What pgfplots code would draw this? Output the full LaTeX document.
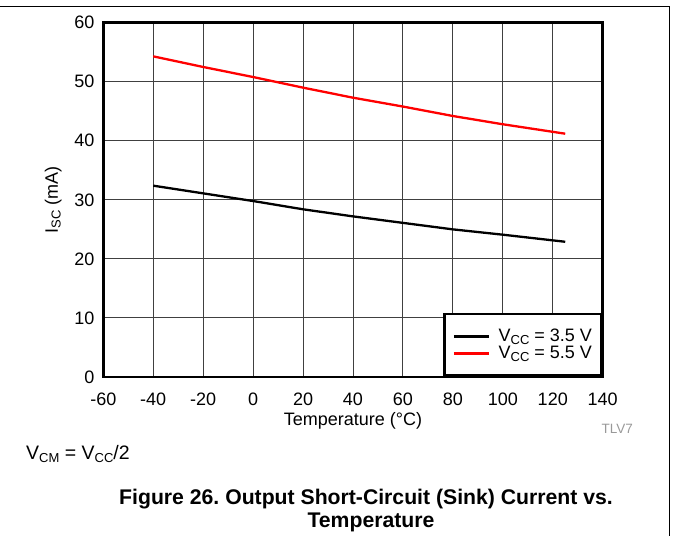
\documentclass[border=0pt]{standalone}
\usepackage{fontspec}
\setmainfont{Liberation Sans}
\usepackage{pgfplots}
\usepackage{pgfplotstable}
\pgfplotsset{compat=1.18}
\frenchspacing

\newcommand\lab{\fontsize{18}{20}\selectfont}
\newcommand\sub[1]{\raisebox{-0.15em}{\fontsize{13}{13}\selectfont #1}}

% Isc (mA) vs temperature (degC)
\pgfplotstableread{
T   I
-40 32.4
-20 31.1
0   29.8
20  28.4
40  27.2
60  26.1
80  25.0
100 24.1
125 22.9
}\lowvcc

\pgfplotstableread{
T   I
-40 54.3
-20 52.5
0   50.8
20  49.0
40  47.3
60  45.8
80  44.2
100 42.8
125 41.2
}\highvcc

\begin{document}
\begin{tikzpicture}[x=1pt,y=1pt]
\useasboundingbox (0,0) rectangle (673,536);
\draw[line width=1pt] (0,529) -- (669,529) -- (669,0);

\begin{axis}[
    at={(103.3pt,159pt)}, anchor=south west,
    scale only axis,
    width=499.4pt, height=354.3pt,
    xmin=-60, xmax=140,
    ymin=0, ymax=60,
    xtick={-60,-40,-20,0,20,40,60,80,100,120,140},
    xticklabels={-60,-40,-20,0,20,40,60,80,100,120,140},
    ytick={0,10,20,30,40,50,60},
    yticklabels={0,10,20,30,40,50,60},
    major tick length=0pt,
    grid=major,
    grid style={black!75, line width=0.9pt},
    axis line style={line width=2.5pt},
    xticklabel style={font=\lab, inner sep=0pt, anchor=north, yshift=-15.3pt},
    yticklabel style={font=\lab, inner sep=0pt, anchor=east, xshift=-8.6pt},
    xlabel={Temperature (°C)},
    xlabel style={font=\lab, at={(axis description cs:0.5,-0.1355)}, anchor=base},
    ylabel={I\sub{SC} (mA)},
    ylabel style={font=\lab, at={(axis description cs:-0.1001,0.5)}, anchor=center},
    legend style={at={(1,0)}, anchor=south east, draw=black, line width=2.5pt,
        fill=white, font=\lab, inner xsep=8pt, inner ysep=14pt, row sep=0pt,
        column sep=7pt, nodes={inner sep=1.5pt}},
    legend cell align=left,
    legend image code/.code={\draw[#1, line width=2.5pt] (0pt,0pt) -- (35pt,0pt);},
]
\addplot[black, line width=2.3pt] table[x=T, y=I] {\lowvcc};
\addlegendentry{V\sub{CC} = 3.5 V}
\addplot[red, line width=2.3pt] table[x=T, y=I] {\highvcc};
\addlegendentry{V\sub{CC} = 5.5 V}
\end{axis}

\node[anchor=base west, text=black!40, font=\fontsize{13.5}{14}\selectfont] at (598,102.7) {TLV7};
\node[anchor=base west, font=\fontsize{19.5}{20}\selectfont] at (22.7,76.7) {V\sub{CM} = V\sub{CC}/2};
\node[anchor=base, font=\bfseries\fontsize{21.2}{23}\selectfont] at (366,31) {Figure 26. Output Short-Circuit (Sink) Current vs.};
\node[anchor=base, font=\bfseries\fontsize{21.2}{23}\selectfont] at (371,8) {Temperature};
\end{tikzpicture}
\end{document}
